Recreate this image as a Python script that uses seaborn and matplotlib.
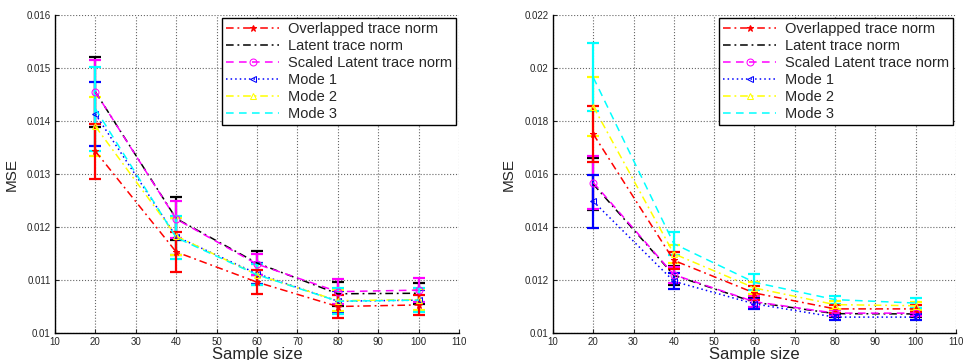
import numpy as np
import pandas as pd
import matplotlib
matplotlib.use("Agg")
import matplotlib.pyplot as plt
import seaborn as sns

# Datos
sizes = [20, 40, 60, 80, 100]
methods = ["Overlapped trace norm", "Latent trace norm", "Scaled Latent trace norm",
           "Mode 1", "Mode 2", "Mode 3"]

left_mean = {
    "Overlapped trace norm": [0.01343, 0.01153, 0.01096, 0.01050, 0.01053],
    "Latent trace norm": [0.01455, 0.01216, 0.01132, 0.01074, 0.01075],
    "Scaled Latent trace norm": [0.01455, 0.01215, 0.01130, 0.01078, 0.01081],
    "Mode 1": [0.01413, 0.01182, 0.01112, 0.01060, 0.01062],
    "Mode 2": [0.01390, 0.01183, 0.01110, 0.01061, 0.01063],
    "Mode 3": [0.01423, 0.01180, 0.01110, 0.01060, 0.01062],
}
left_err = {
    "Overlapped trace norm": [0.00052, 0.00037, 0.00023, 0.00022, 0.00019],
    "Latent trace norm": [0.00066, 0.00040, 0.00022, 0.00023, 0.00020],
    "Scaled Latent trace norm": [0.00060, 0.00035, 0.00020, 0.00023, 0.00022],
    "Mode 1": [0.00060, 0.00035, 0.00020, 0.00020, 0.00020],
    "Mode 2": [0.00055, 0.00035, 0.00020, 0.00020, 0.00020],
    "Mode 3": [0.00080, 0.00040, 0.00020, 0.00025, 0.00022],
}
right_mean = {
    "Overlapped trace norm": [0.01751, 0.01274, 0.01151, 0.01091, 0.01091],
    "Latent trace norm": [0.01562, 0.01218, 0.01116, 0.01073, 0.01072],
    "Scaled Latent trace norm": [0.01568, 0.01220, 0.01118, 0.01075, 0.01075],
    "Mode 1": [0.01497, 0.01195, 0.01110, 0.01060, 0.01060],
    "Mode 2": [0.01855, 0.01299, 0.01170, 0.01107, 0.01103],
    "Mode 3": [0.01965, 0.01337, 0.01191, 0.01126, 0.01113],
}
right_err = {
    "Overlapped trace norm": [0.00107, 0.00033, 0.00027, 0.00015, 0.00013],
    "Latent trace norm": [0.00097, 0.00035, 0.00020, 0.00012, 0.00012],
    "Scaled Latent trace norm": [0.00100, 0.00030, 0.00020, 0.00012, 0.00012],
    "Mode 1": [0.00100, 0.00030, 0.00018, 0.00010, 0.00010],
    "Mode 2": [0.00110, 0.00035, 0.00022, 0.00015, 0.00015],
    "Mode 3": [0.00128, 0.00043, 0.00030, 0.00015, 0.00020],
}

DASH = (0, (5, 3.5))
DASHDOT = (0, (5, 2.5, 1.2, 2.5))
DOT = (0, (1, 2))
styles = {
    "Overlapped trace norm": dict(color="red", ls=DASHDOT, marker="*", mfc="red"),
    "Latent trace norm": dict(color="black", ls=DASHDOT, marker=None, mfc="none"),
    "Scaled Latent trace norm": dict(color="magenta", ls=DASH, marker="o", mfc="none"),
    "Mode 1": dict(color="blue", ls=DOT, marker="<", mfc="none"),
    "Mode 2": dict(color="yellow", ls=DASHDOT, marker="^", mfc="none"),
    "Mode 3": dict(color="cyan", ls=DASH, marker=None, mfc="none"),
}

sns.set_style("white")
plt.rcParams["font.family"] = ["Liberation Sans", "DejaVu Sans"]


def draw_panel(ax, means, errs, ymax, yticks, yticklabels):
    rows = []
    for m in methods:
        for s, v, e in zip(sizes, means[m], errs[m]):
            rows.append({"method": m, "size": s, "mse": v, "err": e})
    df = pd.DataFrame(rows)

    # barras de error (rojo encima)
    order = [m for m in methods if m != "Overlapped trace norm"] + ["Overlapped trace norm"]
    for z, m in enumerate(order):
        d = df[df["method"] == m]
        ax.errorbar(d["size"], d["mse"], yerr=d["err"], fmt="none",
                    ecolor=styles[m]["color"], elinewidth=1.6, capsize=4,
                    capthick=1.6, zorder=3 + z * 0.1)

    for m in methods:
        d = df[df["method"] == m]
        st = styles[m]
        sns.lineplot(data=d, x="size", y="mse", ax=ax, color=st["color"],
                     linestyle=st["ls"], marker=st["marker"], markersize=5,
                     markerfacecolor=st["mfc"], markeredgecolor=st["color"],
                     linewidth=1.1, label=m, zorder=5)

    ax.set_xlim(10, 110)
    ax.set_ylim(0.01, ymax)
    ax.set_xticks(range(10, 111, 10))
    ax.set_yticks(yticks)
    ax.set_yticklabels(yticklabels)
    ax.tick_params(axis="both", direction="in", labelsize=7, length=3,
                   left=True, bottom=True, pad=3)
    ax.grid(True, linestyle=":", color="#666666", linewidth=0.8)
    for sp in ["top", "right"]:
        ax.spines[sp].set_visible(False)
    for sp in ["left", "bottom"]:
        ax.spines[sp].set_color("black")
        ax.spines[sp].set_linewidth(1.0)
    ax.set_xlabel("Sample size", fontsize=12, labelpad=0)
    ax.set_ylabel("MSE", fontsize=11, labelpad=6)
    leg = ax.legend(loc="upper right", fontsize=10.5, fancybox=False, framealpha=1,
                    edgecolor="black", borderaxespad=0.2, handlelength=3.6,
                    labelspacing=0.2, borderpad=0.3, handletextpad=0.6)
    leg.get_frame().set_linewidth(1.0)


fig = plt.figure(figsize=(9.65, 3.6), dpi=100)
ax1 = fig.add_axes([0.057, 0.075, 0.4186, 0.883])
ax2 = fig.add_axes([0.573, 0.075, 0.4177, 0.883])

draw_panel(ax1, left_mean, left_err, 0.016,
           [0.010, 0.011, 0.012, 0.013, 0.014, 0.015, 0.016],
           ["0.01", "0.011", "0.012", "0.013", "0.014", "0.015", "0.016"])
draw_panel(ax2, right_mean, right_err, 0.022,
           [0.010, 0.012, 0.014, 0.016, 0.018, 0.020, 0.022],
           ["0.01", "0.012", "0.014", "0.016", "0.018", "0.02", "0.022"])

fig.savefig("out.png", dpi=100)
